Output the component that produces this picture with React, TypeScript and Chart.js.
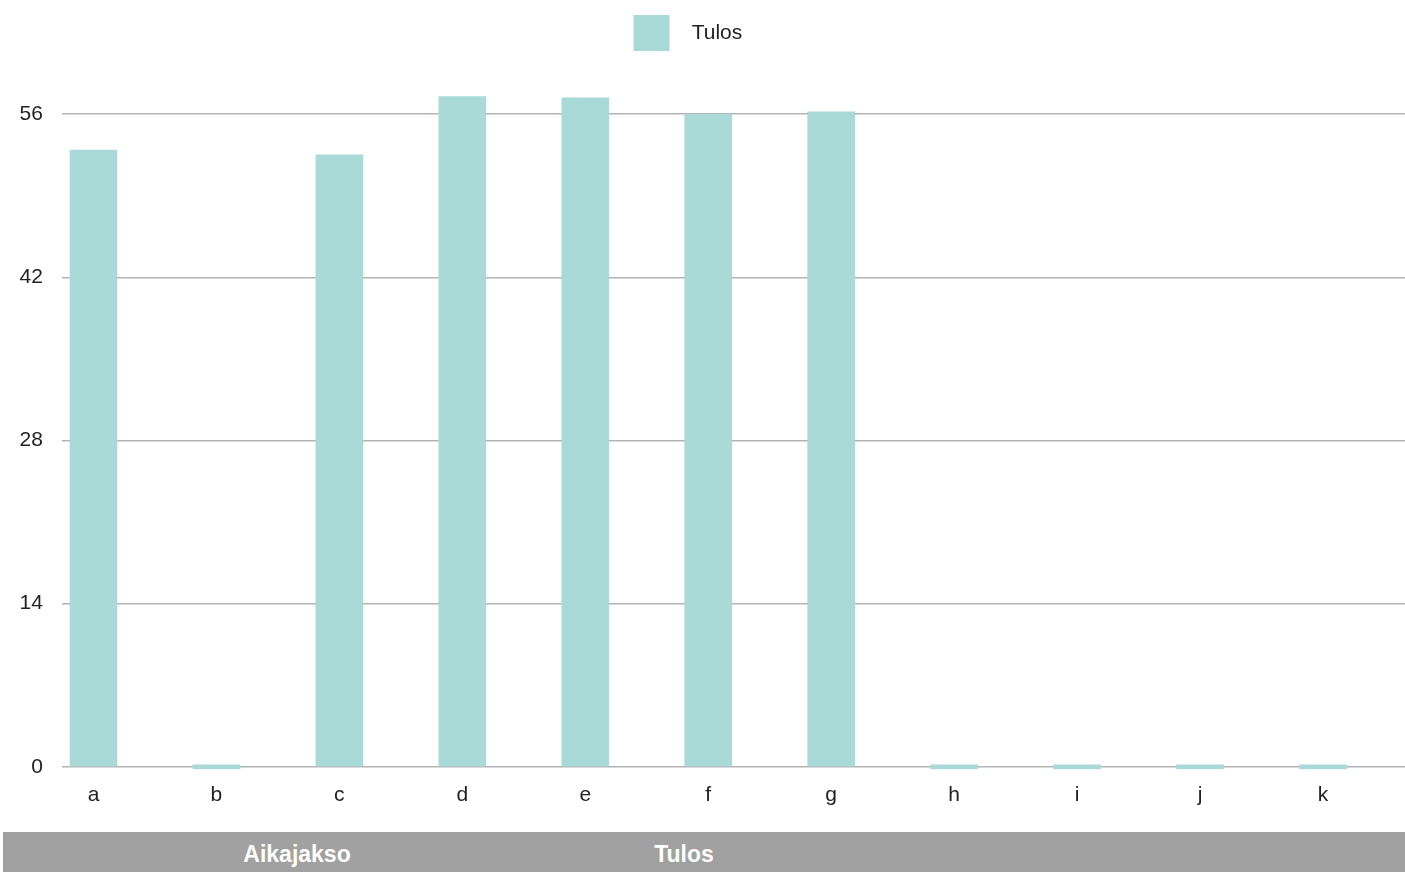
import React, { useEffect, useRef } from 'react';
import { Chart, registerables } from 'chart.js';

Chart.register(...registerables);

const categories = ['a', 'b', 'c', 'd', 'e', 'f', 'g', 'h', 'i', 'j', 'k'];
const tulos = [52.9, 0, 52.5, 57.5, 57.4, 56.0, 56.2, 0, 0, 0, 0];
const yTicks = [0, 14, 28, 42, 56];
const seriesLabel = 'Tulos';
const tableHeaders = ['Aikajakso', 'Tulos'];

const FONT = "'Liberation Sans', Arial, Helvetica, sans-serif";

export default function App() {
  const ref = useRef<HTMLCanvasElement>(null);

  useEffect(() => {
    Chart.defaults.font.family = FONT;
    const chart = new Chart(ref.current as HTMLCanvasElement, {
      type: 'bar',
      data: {
        datasets: [
          {
            label: seriesLabel,
            data: tulos.map((v, i) => ({ x: i, y: v })),
            backgroundColor: '#a9dad8',
            borderWidth: 0,
            barThickness: 47,
            minBarLength: 4,
          },
        ],
      },
      options: {
        responsive: false,
        animation: false,
        layout: { padding: { top: 5, left: 0, right: 0, bottom: 0 } },
        plugins: {
          legend: {
            display: true,
            position: 'top',
            labels: {
              boxWidth: 36,
              boxHeight: 36,
              padding: 10,
              color: '#222222',
              font: { size: 21, family: FONT },
              generateLabels: (c: any) => {
                const items = (Chart.defaults.plugins.legend.labels as any).generateLabels(c);
                items.forEach((it: any) => {
                  it.text = '  ' + it.text + '     ';
                });
                return items;
              },
            },
          },
          tooltip: { enabled: false },
        },
        scales: {
          x: {
            type: 'linear',
            offset: false,
            min: -0.253,
            max: 10.667,
            grid: { display: false, drawTicks: false },
            border: { display: false },
            ticks: {
              stepSize: 1,
              includeBounds: false,
              autoSkip: false,
              maxRotation: 0,
              padding: 13,
              color: '#222222',
              font: { size: 21, family: FONT },
              callback: (v: any) => categories[v as number] ?? '',
            },
          },
          y: {
            min: -0.25,
            max: 60.55,
            afterBuildTicks: (scale: any) => {
              scale.ticks = yTicks.map((v) => ({ value: v }));
            },
            grid: { color: '#b3b3b3', lineWidth: 1.5, drawTicks: false },
            border: { display: false },
            ticks: {
              padding: 19.5,
              color: '#222222',
              font: { size: 21, family: FONT },
            },
          },
        },
      },
    } as any);
    return () => chart.destroy();
  }, []);

  return (
    <div style={{ position: 'absolute', left: 0, top: 0, width: 1405, height: 872, background: '#ffffff', overflow: 'hidden' }}>
      <canvas ref={ref} width={1405} height={821} style={{ position: 'absolute', left: 0, top: 0, display: 'block' }} />
      <div
        style={{
          position: 'absolute',
          left: 3,
          top: 832,
          width: 1402,
          height: 45,
          background: '#a1a1a1',
          color: '#ffffff',
          fontFamily: FONT,
          fontWeight: 'bold',
          fontSize: 23,
        }}
      >
        <span style={{ position: 'absolute', left: 234, top: 2, lineHeight: '40px', width: 120, textAlign: 'center' }}>{tableHeaders[0]}</span>
        <span style={{ position: 'absolute', left: 624, top: 2, lineHeight: '40px', width: 114, textAlign: 'center' }}>{tableHeaders[1]}</span>
      </div>
    </div>
  );
}
